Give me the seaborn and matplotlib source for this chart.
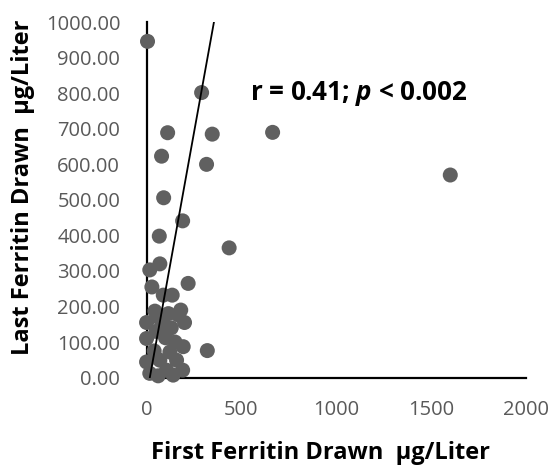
import matplotlib
matplotlib.use("Agg")
import matplotlib.pyplot as plt
import seaborn as sns
import pandas as pd
import numpy as np

# Ferritin pairs (µg/Liter): first draw vs last draw per patient
first_ferritin = [5, 290, 111, 346, 664, 79, 316, 1600, 90, 190,
                  67, 435, 70, 17, 219, 28, 88, 135, 44, 180,
                  167, 200, 0, 90, 0, 100, 193, 320, 123, 0,
                  70, 158, 17, 105, 190, 61, 140, 50, 130, 40,
                  150, 60, 115]
last_ferritin = [946, 802, 689, 685, 690, 623, 600, 570, 506, 441,
                 398, 365, 320, 303, 265, 255, 232, 232, 187, 190,
                 176, 155, 155, 145, 110, 112, 87, 76, 72, 44,
                 49, 49, 12, 21, 21, 5, 7, 130, 140, 75,
                 100, 170, 180]

# Fitted line shown on the chart
fit_slope = 2.96
fit_intercept = -50.3
fit_x_range = [17, 355]

x_ticks = [0, 500, 1000, 1500, 2000]
y_ticks = [0, 100, 200, 300, 400, 500, 600, 700, 800, 900, 1000]

stat_label = r"r = 0.41; $\mathbfit{p}$ < 0.002"
x_title = "First Ferritin Drawn  µg/Liter"
y_title = "Last Ferritin Drawn  µg/Liter"

FONT = "Open Sans"

sns.set_style("white")
plt.rcParams["font.family"] = [FONT, "DejaVu Sans"]
plt.rcParams["mathtext.fontset"] = "custom"
plt.rcParams["mathtext.bfit"] = f"{FONT}:italic:bold"
plt.rcParams["mathtext.rm"] = FONT
plt.rcParams["mathtext.bf"] = f"{FONT}:bold"

df = pd.DataFrame({"first": first_ferritin, "last": last_ferritin})

fig = plt.figure(figsize=(5.51, 4.72), dpi=100)
ax = fig.add_axes([0.266, 0.2, 0.689, 0.753])

sns.scatterplot(data=df, x="first", y="last", s=117, color="#606060",
                edgecolor="none", linewidth=0, ax=ax, zorder=3)
for coll in ax.collections:
    coll.set_clip_on(False)

fit_x = np.array(fit_x_range, dtype=float)
fit_y = fit_slope * fit_x + fit_intercept
sns.lineplot(x=fit_x, y=fit_y, color="black", linewidth=1.3, ax=ax,
             zorder=4)

ax.set_xlim(0, 2000)
ax.set_ylim(0, 1000)
ax.set_xticks(x_ticks)
ax.set_yticks(y_ticks)
ax.set_xticklabels([f"{v:d}" for v in x_ticks])
ax.set_yticklabels([f"{v:.2f}" for v in y_ticks])
ax.tick_params(axis="both", length=0, labelsize=14.5, labelcolor="#595959")
ax.tick_params(axis="x", pad=16)
ax.tick_params(axis="y", pad=19)

for side in ("top", "right"):
    ax.spines[side].set_visible(False)
for side in ("left", "bottom"):
    ax.spines[side].set_color("black")
    ax.spines[side].set_linewidth(1.6)

ax.set_xlabel(x_title, fontsize=17, fontweight="bold", color="black")
ax.set_ylabel(y_title, fontsize=17, fontweight="bold", color="black")
ax.xaxis.label.set_va("center")
ax.yaxis.label.set_va("center")
ax.xaxis.set_label_coords(0.457, -0.212)
ax.yaxis.set_label_coords(-0.326, 0.535)

ax.text(545, 800, stat_label, fontsize=18.7, fontweight="bold",
        va="center", ha="left", color="black")

fig.savefig("out.png", dpi=100)
